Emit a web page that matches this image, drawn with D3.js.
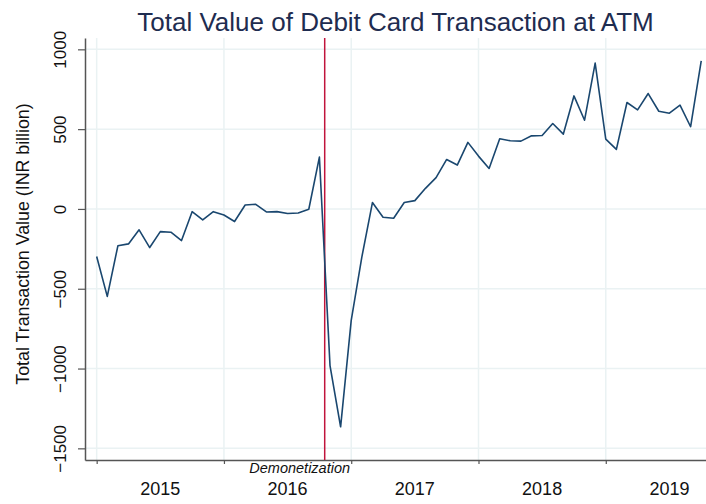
<!DOCTYPE html>
<html>
<head>
<meta charset="utf-8">
<script src="https://cdn.jsdelivr.net/npm/d3@7"></script>
<style>
  body { margin: 0; background: #fff; }
  text { font-family: "Liberation Sans", Arial, sans-serif; }
</style>
</head>
<body>
<div id="container"></div>
<script>
// monthly values, Jan 2015 .. Oct 2019 (INR billion)
const values = [
  -298, -548, -231, -219, -131, -242, -142, -146, -198, -17, -69, -17,
  -38, -79, 25, 29, -19, -17, -29, -25, -2, 325, -981, -1365,
  -698, -302, 40, -52, -58, 40, 52, 129, 196, 310, 275, 417,
  331, 254, 440, 427, 425, 458, 460, 535, 469, 708, 556, 914,
  437, 373, 667, 621, 723, 612, 600, 650, 515, 927
]
const years = [2015, 2016, 2017, 2018, 2019]
const yTicks = [1000, 500, 0, -500, -1000, -1500]
const demonetization = 21.5   // month index of the event line
const eventLabel = "Demonetization"

const width = 706
const height = 504
const margin = { top: 38, right: 0, bottom: 44, left: 85 }

const svg = d3.select("#container").append("svg")
  .attr("width", width)
  .attr("height", height)

// month index -> px (index 0 sits a bit inside the axis, like stata)
const x = d3.scaleLinear([-1.1, 57.45], [margin.left, width - margin.right])
const y = d3.scaleLinear([-1573, 1071], [height - margin.bottom, margin.top])

const gridColor = "#eaf2f3"

// grid
svg.append("g")
  .selectAll("line")
  .data(yTicks)
  .join("line")
  .attr("x1", margin.left).attr("x2", width)
  .attr("y1", d => y(d)).attr("y2", d => y(d))
  .attr("stroke", gridColor).attr("stroke-width", 1.5)

svg.append("g")
  .selectAll("line")
  .data(years)
  .join("line")
  .attr("x1", (d, i) => x(i * 12)).attr("x2", (d, i) => x(i * 12))
  .attr("y1", margin.top).attr("y2", height - margin.bottom)
  .attr("stroke", gridColor).attr("stroke-width", 1.5)

// y axis
const yAxis = svg.append("g")
  .attr("transform", `translate(${margin.left},0)`)
  .call(d3.axisLeft(y).tickValues(yTicks).tickSize(7).tickSizeOuter(0).tickFormat(d3.format("d")))
yAxis.select(".domain").attr("stroke", "#555").attr("stroke-width", 1.5)
yAxis.selectAll(".tick line").attr("stroke", "#555").attr("stroke-width", 1.2)
yAxis.selectAll(".tick text")
  .attr("font-size", 17)
  .attr("fill", "#111")
  .attr("text-anchor", "middle")
  .attr("x", 0).attr("y", 0).attr("dy", null)
  .attr("transform", "translate(-19,0) rotate(-90)")

// x axis
const xAxis = svg.append("g")
  .attr("transform", `translate(0,${height - margin.bottom})`)
  .call(d3.axisBottom(x).tickValues(years.map((d, i) => i * 12)).tickSize(4).tickSizeOuter(0).tickFormat(""))
xAxis.select(".domain").attr("stroke", "#555").attr("stroke-width", 1.5)
xAxis.selectAll(".tick line").attr("stroke", "#555").attr("stroke-width", 1.2)

svg.append("g")
  .selectAll("text")
  .data(years)
  .join("text")
  .attr("x", (d, i) => x(i * 12 + 6))
  .attr("y", 495)
  .attr("text-anchor", "middle")
  .attr("font-size", 18)
  .attr("fill", "#111")
  .text(d => d)

// event line
svg.append("line")
  .attr("x1", x(demonetization)).attr("x2", x(demonetization))
  .attr("y1", margin.top).attr("y2", height - margin.bottom)
  .attr("stroke", "#c0143c").attr("stroke-width", 1.5)

svg.append("text")
  .attr("x", x(demonetization) - 25)
  .attr("y", 473)
  .attr("text-anchor", "middle")
  .attr("font-size", 14.5)
  .attr("font-style", "italic")
  .attr("fill", "#111")
  .text(eventLabel)

// the series
const line = d3.line()
  .x((d, i) => x(i))
  .y(d => y(d))

svg.append("path")
  .datum(values)
  .attr("d", line)
  .attr("fill", "none")
  .attr("stroke", "#1a476f")
  .attr("stroke-width", 1.6)
  .attr("stroke-linejoin", "round")

// titles
svg.append("text")
  .attr("x", (margin.left + width) / 2)
  .attr("y", 31)
  .attr("text-anchor", "middle")
  .attr("font-size", 26)
  .attr("fill", "#1e2c50")
  .text("Total Value of Debit Card Transaction at ATM")

svg.append("text")
  .attr("transform", `translate(29,${(margin.top + height - margin.bottom) / 2 - 5}) rotate(-90)`)
  .attr("text-anchor", "middle")
  .attr("font-size", 17.8)
  .attr("fill", "#111")
  .text("Total Transaction Value (INR billion)")
</script>
</body>
</html>
